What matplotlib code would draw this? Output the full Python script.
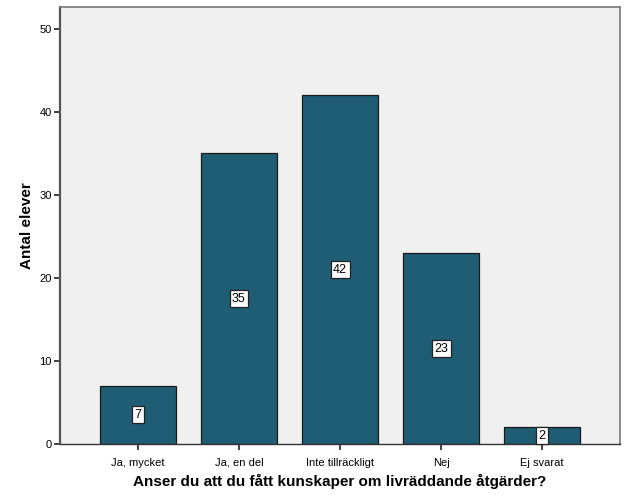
import matplotlib
matplotlib.use('Agg')
import matplotlib.pyplot as plt
import numpy as np

plt.rcParams['font.family'] = ['Liberation Sans', 'DejaVu Sans']

categories = ['Ja, mycket', 'Ja, en del', 'Inte tillräckligt', 'Nej', 'Ej svarat']
counts = [7, 35, 42, 23, 2]

fig = plt.figure(figsize=(6.29, 5.04), dpi=100)
ax = fig.add_axes([60/629, 60/504, 560/629, 437/504])
ax.set_facecolor('#F0F0F0')

x = np.arange(len(categories))
ax.bar(x, counts, width=0.75, color='#1F5D74', edgecolor='#1a1a1a', linewidth=0.9, zorder=2)

for xi, c in zip(x, counts):
    ax.text(xi, c/2, str(c), ha='center', va='center', fontsize=9, zorder=3,
            bbox=dict(boxstyle='square,pad=0.2', facecolor='white', edgecolor='#222222', linewidth=0.9))

ax.set_xlim(-0.77, 4.77)
ax.set_ylim(0, 52.65)
ax.set_yticks([0, 10, 20, 30, 40, 50])
ax.set_xticks(x)
ax.set_xticklabels(categories)
ax.tick_params(axis='both', labelsize=8, length=4, width=1.2, color='#222222', pad=2)
ax.tick_params(axis='x', pad=6)

ax.spines['left'].set_color('#555555')
ax.spines['left'].set_linewidth(1.6)
ax.spines['bottom'].set_color('#333333')
ax.spines['bottom'].set_linewidth(1.0)
for s in ['top', 'right']:
    ax.spines[s].set_color('#777777')
    ax.spines[s].set_linewidth(1.2)

ax.set_ylabel('Antal elever', fontsize=11, fontweight='bold', labelpad=4)
ax.set_xlabel('Anser du att du fått kunskaper om livräddande åtgärder?', fontsize=11, fontweight='bold', labelpad=4)

fig.savefig('out.png', dpi=100)
